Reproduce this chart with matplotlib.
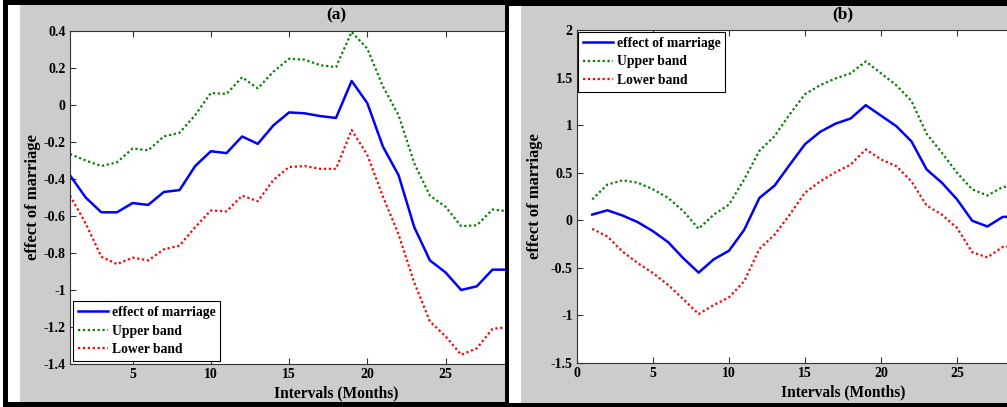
import matplotlib
matplotlib.use("Agg")
import matplotlib.pyplot as plt
from matplotlib.patches import Rectangle

plt.rcParams['font.family'] = ['Liberation Serif', 'DejaVu Serif']
plt.rcParams['font.weight'] = 'bold'

# ---- data -------------------------------------------------------------
months = list(range(1, 30))

effect_a = [-0.38, -0.50, -0.58, -0.58, -0.53, -0.54, -0.47, -0.46, -0.33, -0.25,
            -0.26, -0.17, -0.21, -0.11, -0.04, -0.045, -0.06, -0.07, 0.13, 0.01,
            -0.225, -0.38, -0.66, -0.84, -0.905, -1.00, -0.98, -0.89, -0.89]
upper_a = [-0.265, -0.30, -0.33, -0.31, -0.235, -0.245, -0.17, -0.15, -0.055, 0.065,
           0.06, 0.15, 0.09, 0.18, 0.25, 0.245, 0.215, 0.205, 0.395, 0.305,
           0.10, -0.055, -0.315, -0.49, -0.55, -0.655, -0.65, -0.565, -0.575]
lower_a = [-0.49, -0.64, -0.82, -0.86, -0.825, -0.84, -0.78, -0.76, -0.66, -0.57,
           -0.575, -0.49, -0.52, -0.405, -0.335, -0.33, -0.345, -0.345, -0.135, -0.27,
           -0.495, -0.70, -0.96, -1.17, -1.25, -1.35, -1.315, -1.21, -1.20]

effect_b = [0.06, 0.105, 0.05, -0.02, -0.115, -0.23, -0.40, -0.55, -0.41, -0.32,
            -0.10, 0.235, 0.365, 0.585, 0.80, 0.93, 1.015, 1.07, 1.21, 1.10,
            0.99, 0.83, 0.535, 0.395, 0.22, -0.005, -0.065, 0.035, 0.04]
upper_b = [0.22, 0.375, 0.42, 0.395, 0.325, 0.235, 0.095, -0.09, 0.06, 0.165,
           0.43, 0.73, 0.885, 1.115, 1.325, 1.42, 1.49, 1.545, 1.67, 1.545,
           1.42, 1.255, 0.91, 0.71, 0.50, 0.325, 0.26, 0.35, 0.36]
lower_b = [-0.09, -0.17, -0.33, -0.45, -0.555, -0.68, -0.83, -0.985, -0.89, -0.81,
           -0.64, -0.30, -0.15, 0.06, 0.29, 0.41, 0.505, 0.585, 0.745, 0.64,
           0.57, 0.41, 0.155, 0.06, -0.08, -0.335, -0.39, -0.28, -0.27]

series_labels = ['effect of marriage', 'Upper band', 'Lower band']

yticks_a = [-1.4, -1.2, -1.0, -0.8, -0.6, -0.4, -0.2, 0.0, 0.2, 0.4]
ylabels_a = ['-1.4', '-1.2', '-1', '-0.8', '-0.6', '-0.4', '-0.2', '0', '0.2', '0.4']
xticks_a = [5, 10, 15, 20, 25]

yticks_b = [-1.5, -1.0, -0.5, 0.0, 0.5, 1.0, 1.5, 2.0]
ylabels_b = ['-1.5', '-1', '-0.5', '0', '0.5', '1', '1.5', '2']
xticks_b = [0, 5, 10, 15, 20, 25]

# ---- figure -----------------------------------------------------------
W, H = 1007, 407
fig = plt.figure(figsize=(W / 100, H / 100), dpi=100)
fig.patch.set_facecolor('white')

GREY = '#cccccc'


def px_rect(x0, y0, x1, y1, color, z):
    """Rectangle given in pixel coordinates measured from the top-left."""
    fig.patches.append(Rectangle((x0 / W, 1 - y1 / H), (x1 - x0) / W, (y1 - y0) / H,
                                 transform=fig.transFigure, facecolor=color,
                                 edgecolor='none', zorder=z))


# panel (a) frame and background (beneath its axes)
px_rect(3, 0, W, H, 'black', -10)
px_rect(8, 5, 505, 402, 'white', -9)
px_rect(20, 5, 505, 402, GREY, -8)
# panel (b) frame and background (covers the overflow of panel a)
px_rect(505, 0, W, 6, 'black', 1)
px_rect(505, 403, W, H, 'black', 1)
px_rect(505, 0, 509, H, 'black', 1)
px_rect(509, 6, W, 403, 'white', 1)
px_rect(521, 6, W, 403, GREY, 1)


def make_axes(x0, x1, y0, y1, z):
    ax = fig.add_axes([x0 / W, 1 - y1 / H, (x1 - x0) / W, (y1 - y0) / H])
    ax.set_zorder(z)
    ax.set_facecolor('white')
    for s in ax.spines.values():
        s.set_color('#333333')
        s.set_linewidth(0.8)
    ax.tick_params(direction='in', top=True, right=True, length=4.5, width=0.8,
                   color='#333333', labelsize=10, pad=3)
    return ax


def draw_series(ax, eff, up, lo):
    ax.plot(months, eff, color='#0000ff', lw=1.8, label=series_labels[0])
    ax.plot(months, up, color='#008000', lw=1.6, ls=(0, (1, 1.2)), label=series_labels[1])
    ax.plot(months, lo, color='#ff0000', lw=1.6, ls=(0, (1, 1.2)), label=series_labels[2])


def add_legend(ax, loc, anchor_px):
    leg = ax.legend(loc=loc, bbox_to_anchor=(anchor_px[0] / W, 1 - anchor_px[1] / H),
                    bbox_transform=fig.transFigure, fontsize=9.8, fancybox=False,
                    framealpha=1, edgecolor='black', handlelength=2.2,
                    labelspacing=0.42, borderpad=0.35, handletextpad=0.3,
                    borderaxespad=0)
    leg.get_frame().set_linewidth(0.8)
    return leg


# ---- panel (a) --------------------------------------------------------
ax_a = make_axes(70, 602, 31, 364, 0)
draw_series(ax_a, effect_a, upper_a, lower_a)
ax_a.set_xlim(1, 35)
ax_a.set_ylim(-1.4, 0.4)
ax_a.set_xticks(xticks_a)
ax_a.set_yticks(yticks_a)
ax_a.set_yticklabels(ylabels_a)
ax_a.set_xlabel('Intervals (Months)', labelpad=3, fontsize=11.2, fontweight='bold')
ax_a.set_ylabel('effect of marriage', labelpad=2, fontsize=12, fontweight='bold')
ax_a.set_title('(a)', pad=8, fontsize=12.5, fontweight='bold')
add_legend(ax_a, 'lower left', (73, 361))

# ---- panel (b) --------------------------------------------------------
ax_b = make_axes(577, 1109, 30, 363, 2)
draw_series(ax_b, effect_b, upper_b, lower_b)
ax_b.set_xlim(0, 35)
ax_b.set_ylim(-1.5, 2.0)
ax_b.set_xticks(xticks_b)
ax_b.set_yticks(yticks_b)
ax_b.set_yticklabels(ylabels_b)
ax_b.set_xlabel('Intervals (Months)', labelpad=3, fontsize=11.2, fontweight='bold')
ax_b.set_ylabel('effect of marriage', labelpad=6, fontsize=12, fontweight='bold')
ax_b.set_title('(b)', pad=8, fontsize=12.5, fontweight='bold')
add_legend(ax_b, 'upper left', (578, 32))

fig.savefig('out.png', dpi=100, facecolor=fig.get_facecolor())
